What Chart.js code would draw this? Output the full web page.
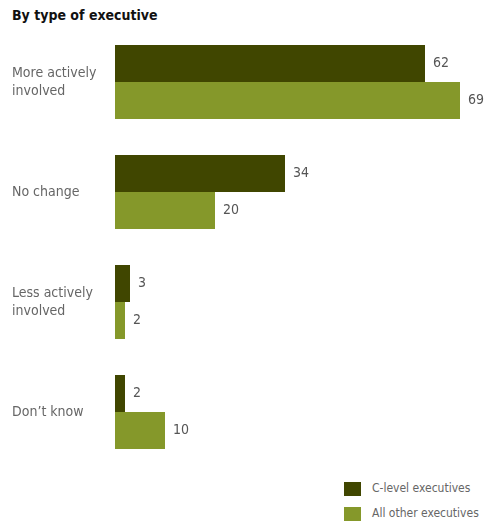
<!DOCTYPE html>
<html>
<head>
<meta charset="utf-8">
<script src="https://cdn.jsdelivr.net/npm/chart.js@4/dist/chart.umd.min.js"></script>
<style>
  body { margin: 0; background: #fff; width: 485px; height: 525px; position: relative; overflow: hidden; }
  #title { position: absolute; left: 12px; top: 7px; font: bold 14px "Liberation Sans Narrow", "DejaVu Sans Condensed", sans-serif; color: #111; }
  #chartBox { position: absolute; left: 0; top: 27px; width: 485px; height: 440px; }
  .legend { position: absolute; left: 344px; font: 12px "Liberation Sans Narrow", "DejaVu Sans Condensed", sans-serif; color: #666; }
  .legend span { display: inline-block; width: 17px; height: 14px; vertical-align: middle; margin-right: 11px; }
</style>
</head>
<body>
<div id="title">By type of executive</div>
<div id="chartBox"><canvas id="chart"></canvas></div>
<div class="legend" style="top:481px"><span style="background:#404600"></span>C-level executives</div>
<div class="legend" style="top:506px"><span style="background:#85982a"></span>All other executives</div>
<script>
const categories = [["More actively", "involved"], "No change", ["Less actively", "involved"], "Don\u2019t know"];
const cLevel = [62, 34, 3, 2];
const allOther = [69, 20, 2, 10];
const seriesNames = ["C-level executives", "All other executives"];

const narrow = "'Liberation Sans Narrow', 'DejaVu Sans Condensed', sans-serif";

// draws the number right after each bar
const valueLabels = {
  id: "valueLabels",
  afterDatasetsDraw(chart) {
    const ctx = chart.ctx;
    ctx.save();
    ctx.font = "14px " + narrow;
    ctx.fillStyle = "#555";
    ctx.textAlign = "left";
    ctx.textBaseline = "middle";
    chart.data.datasets.forEach((ds, i) => {
      chart.getDatasetMeta(i).data.forEach((bar, j) => {
        ctx.fillText(String(ds.data[j]), bar.x + 8, bar.y);
      });
    });
    ctx.restore();
  }
};

new Chart(document.getElementById("chart"), {
  type: "bar",
  data: {
    labels: categories,
    datasets: [
      { label: seriesNames[0], data: cLevel, backgroundColor: "#404600", categoryPercentage: 0.673, barPercentage: 1 },
      { label: seriesNames[1], data: allOther, backgroundColor: "#85982a", categoryPercentage: 0.673, barPercentage: 1 }
    ]
  },
  options: {
    indexAxis: "y",
    responsive: true,
    maintainAspectRatio: false,
    animation: false,
    layout: { padding: { left: 12, right: 20, top: 0, bottom: 0 } },
    plugins: { legend: { display: false }, tooltip: { enabled: false } },
    scales: {
      x: { display: false, min: 0, max: 70 },
      y: {
        grid: { display: false },
        border: { display: false },
        afterFit(scale) {
          scale.width = 103;
          scale.paddingTop = 0;
          scale.paddingBottom = 0;
        },
        ticks: {
          crossAlign: "far",
          color: "#666",
          font: { family: narrow, size: 14, lineHeight: 1.3 }
        }
      }
    }
  },
  plugins: [valueLabels]
});
</script>
</body>
</html>
